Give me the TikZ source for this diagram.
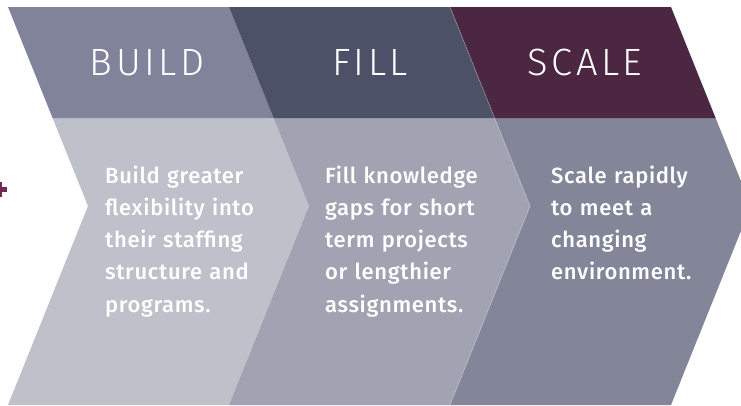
\documentclass[tikz,border=0pt]{standalone}
\usepackage{fontspec}
\setmainfont{Fira Sans Medium}[LetterSpace=3]
\newfontfamily\headfont{Fira Sans Light}[LetterSpace=9]
\usepackage[svgnames]{xcolor}
\usepackage{tikz}
\definecolor{buildtop}{HTML}{80839A}
\definecolor{buildbot}{HTML}{BEC0CA}
\definecolor{filltop}{HTML}{4D5168}
\definecolor{fillbot}{HTML}{A1A3B3}
\definecolor{scaletop}{HTML}{4B2741}
\definecolor{scalebot}{HTML}{838699}
\definecolor{plusplum}{HTML}{6E2A50}

\begin{document}
\begin{tikzpicture}[x=1pt,y=-1pt,
  head/.style={text=white,font=\headfont\fontsize{38}{42}\selectfont,anchor=base,inner sep=0pt},
  body/.style={text=white,font=\fontsize{22}{32.3}\selectfont,anchor=base west,
    align=left,text width=200pt,inner sep=0pt}]
\clip (0,0) rectangle (741,405);
\fill[white] (0,0) rectangle (741,405);
\foreach \l/\top/\bot in {8/buildtop/buildbot,229/filltop/fillbot,450/scaletop/scalebot}{
  \fill[\bot] (\l+44.6,118) -- ++(221,0) -- (\l+301,206) -- (\l+221,405)
    -- (\l,405) -- (\l+80,206) -- cycle;
  \fill[\top] (\l,7) -- ++(221,0) -- (\l+265.6,118) -- (\l+44.6,118) -- cycle;
}
\draw[white,opacity=0.35,line width=0.6pt] (450,7) -- (530,206) -- (450,405);
\fill[plusplum] (-3.2,182) rectangle (1.8,197);
\fill[plusplum] (-8.2,187) rectangle (6.8,192);
\node[head] (buildhead) at (147,75) {BUILD};
\node[head] (fillhead) at (370,75) {FILL};
\node[head] (scalehead) at (585,75) {SCALE};
\node[body] (buildtext) at (105,183) {Build greater\\flexibility into\\their staffing\\structure and\\programs.};
\node[body] (filltext) at (325,183) {Fill knowledge\\gaps for short\\term projects\\or lengthier\\assignments.};
\node[body] (scaletext) at (551,183) {Scale rapidly\\to meet a\\changing\\environment.};
\end{tikzpicture}
\end{document}
